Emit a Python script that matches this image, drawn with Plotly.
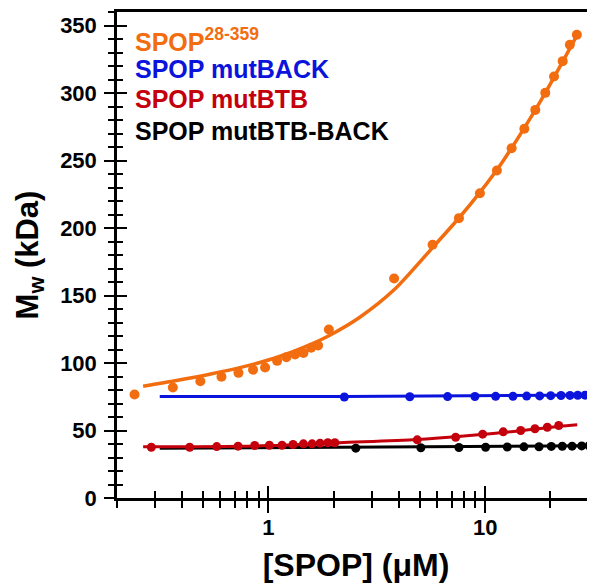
import plotly.graph_objects as go
import math

# ---------------- data ----------------
orange_x = [0.241, 0.362, 0.485, 0.607, 0.727, 0.849, 0.965, 1.096, 1.21, 1.327, 1.45, 1.574, 1.695,
            1.90, 3.80, 5.72, 7.57, 9.46, 11.33, 13.25, 15.17, 17.04, 18.95, 20.8, 22.8, 24.6, 26.5]
orange_y = [76.7, 81.9, 86.5, 89.8, 92.7, 95.0, 96.7, 101.6, 104.3, 106.3, 107.5, 111.3, 113.0,
            124.8, 162.6, 187.6, 207.3, 225.8, 242.6, 259.1, 273.5, 287.5, 300.1, 312.2, 323.6, 335.7, 343.1]
orange_fit_x = [0.264, 0.376, 0.536, 0.763, 1.09, 1.55, 1.92, 2.64, 3.8, 5.72, 7.57, 9.46, 12.1, 17.9, 26.5]
orange_fit_y = [82.8, 87.0, 91.7, 97.1, 104.1, 113.5, 120.6, 133.9, 154.2, 185.5, 207.4, 226.4, 249.7, 293.2, 342.5]

blue_x = [2.24, 4.49, 6.71, 8.97, 11.18, 13.44, 15.55, 17.85, 20.07, 22.39, 24.64, 26.75, 28.9, 31.0]
blue_y = [74.8, 75.0, 75.1, 75.2, 75.3, 75.4, 75.5, 75.6, 75.8, 75.9, 76.0, 76.1, 76.2, 76.3]
blue_fit_x = [0.315, 2.25, 32.0]
blue_fit_y = [75.1, 75.2, 76.4]

red_x = [0.288, 0.433, 0.577, 0.724, 0.864, 1.01, 1.155, 1.299, 1.45, 1.59, 1.731, 1.879, 2.025,
         4.86, 7.31, 9.74, 12.12, 14.59, 16.98, 19.36, 21.86]
red_y = [37.6, 37.6, 38.1, 38.4, 38.9, 39.1, 39.1, 39.6, 40.1, 40.1, 40.6, 40.9, 40.9,
         43.1, 45.0, 47.3, 49.0, 50.0, 51.3, 52.4, 53.7]
red_fit_x = [0.264, 1.0, 2.13, 4.86, 12.1, 21.9, 26.6]
red_fit_y = [37.9, 38.8, 41.0, 43.3, 48.5, 53.0, 54.2]

black_x = [2.53, 5.05, 7.57, 10.05, 12.65, 15.1, 17.73, 20.2, 22.7, 25.2, 27.9, 30.2]
black_y = [36.9, 37.2, 37.4, 37.6, 37.8, 37.9, 38.0, 38.2, 38.3, 38.4, 38.6, 38.7]
black_fit_x = [0.315, 32.0]
black_fit_y = [36.9, 38.7]

series_names = ["SPOP<sup>28-359</sup>", "SPOP mutBACK", "SPOP mutBTB", "SPOP mutBTB-BACK"]
colors = ["#F26D0F", "#0B14DC", "#C4000C", "#000000"]

x_major = [1, 10]
x_major_text = ["1", "10"]
x_minor = [0.2, 0.3, 0.4, 0.5, 0.6, 0.7, 0.8, 0.9, 2, 3, 4, 5, 6, 7, 8, 9, 20, 30]
y_major = [0, 50, 100, 150, 200, 250, 300, 350]

# ---------------- figure ----------------
FONT = "Liberation Sans, Arial, sans-serif"
fig = go.Figure()

fits = [(orange_fit_x, orange_fit_y), (blue_fit_x, blue_fit_y), (red_fit_x, red_fit_y), (black_fit_x, black_fit_y)]
pts = [(orange_x, orange_y), (blue_x, blue_y), (red_x, red_y), (black_x, black_y)]
widths = [3.5, 3, 3, 3]
sizes = [10, 9, 9, 9]

order = [3, 1, 2, 0]
for i in order:
    fx, fy = fits[i]
    on2 = (i == 0)
    fig.add_trace(go.Scatter(x=fx, y=fy, mode="lines", line=dict(color=colors[i], width=widths[i], shape="spline", smoothing=0.8),
                             xaxis="x2" if on2 else "x", yaxis="y2" if on2 else "y",
                             showlegend=False, hoverinfo="skip"))
for i in order:
    px_, py_ = pts[i]
    on2 = (i == 0)
    fig.add_trace(go.Scatter(x=px_, y=py_, mode="markers", marker=dict(color=colors[i], size=sizes[i]),
                             xaxis="x2" if on2 else "x", yaxis="y2" if on2 else "y",
                             showlegend=False, cliponaxis=False))

xr = [math.log10(0.2), 1.507]
yr = [0, 360]
tickfont = dict(family=FONT, size=22, color="black", weight="bold")

common_x = dict(type="log", range=xr, tickmode="array", tickvals=x_major, showgrid=False, zeroline=False,
                tickwidth=2, tickcolor="black", ticklen=12, automargin=False)
common_y = dict(range=yr, tickmode="array", tickvals=y_major, showgrid=False, zeroline=False,
                tickwidth=2, tickcolor="black", ticklen=10, automargin=False)

# page body has an 8px default margin: figure is sized so the plot area lands at x 117-595, y 12-498
fig.update_layout(
    width=587, height=577,
    margin=dict(l=109, r=0, t=4, b=87),
    paper_bgcolor="white", plot_bgcolor="white",
    showlegend=False,
    xaxis=dict(**common_x, ticks="outside", ticktext=x_major_text, tickfont=tickfont, ticklabelstandoff=-4,
               minor=dict(tickmode="array", tickvals=x_minor, ticks="outside", ticklen=7, tickwidth=2, tickcolor="black"),
               showline=True, linewidth=2.5, linecolor="black", mirror=True, anchor="y",
               title=dict(text="<b>[SPOP] (μM)</b>", font=dict(family=FONT, size=32, color="black"), standoff=15)),
    xaxis2=dict(**common_x, ticks="inside", showticklabels=False, overlaying="x", anchor="y2", side="bottom",
                minor=dict(tickmode="array", tickvals=x_minor, ticks="inside", ticklen=7, tickwidth=2, tickcolor="black"),
                showline=False),
    yaxis=dict(**common_y, ticks="outside", tickfont=tickfont, ticklabelstandoff=3,
               minor=dict(dtick=10, tick0=0, ticks="outside", ticklen=6, tickwidth=2, tickcolor="black"),
               showline=True, linewidth=2.5, linecolor="black", anchor="x",
               title=dict(text="<b>M<sub>w</sub> (kDa)</b>", font=dict(family=FONT, size=31, color="black"), standoff=13)),
    yaxis2=dict(**common_y, ticks="inside", showticklabels=False, overlaying="y", anchor="x2", side="left",
                minor=dict(dtick=10, tick0=0, ticks="inside", ticklen=6, tickwidth=2, tickcolor="black"),
                showline=False),
)

legend_y = [0.942, 0.882, 0.821, 0.756]
for name, c, ly in zip(series_names, colors, legend_y):
    fig.add_annotation(text="<b>" + name + "</b>", xref="paper", yref="paper", x=0.033, y=ly,
                       xanchor="left", yanchor="middle", showarrow=False,
                       font=dict(family=FONT, size=25, color=c))

fig.write_html("out.html")
